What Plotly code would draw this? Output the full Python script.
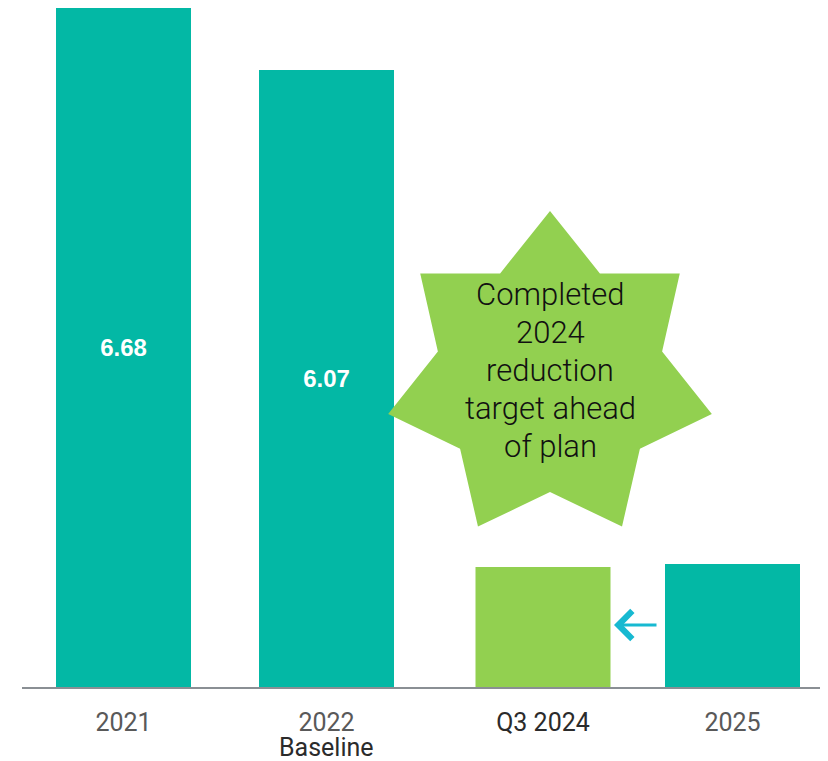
import math
import plotly.graph_objects as go

# ---- data ----
categories = ["2021", "2022", "Q3 2024", "2025"]
values = [6.68, 6.07, 1.18, 1.21]
value_labels = ["6.68", "6.07", "", ""]
tick_labels = [
    '<span style="color:#595959">2021</span>',
    '<span style="color:#595959">2022</span>',
    '<span style="color:#2b2b2b">Q3 2024</span>',
    '<span style="color:#595959">2025</span>',
]
baseline_label = "Baseline"
callout_lines = ["Completed", "2024", "reduction", "target ahead", "of plan"]

# ---- layout constants (screen pixels; page has an 8px body offset) ----
OFF = 8
W, H = 828 - OFF, 761 - OFF
AXIS_X0, AXIS_Y = 22, 687          # screen px of plot left / baseline
ML = AXIS_X0 - OFF
MT = 0
PLOT_H = AXIS_Y - OFF - MT
MB = H - MT - PLOT_H
MR = 0
YMAX = 6.68
K = PLOT_H / YMAX                   # px per unit
x_pos = [101.5, 304.5, 521, 710.5]  # bar centres in axis units (px from plot left)
bar_w = 135
TEAL = "#03b8a5"
GREEN = "#92d050"
colors = [TEAL, TEAL, GREEN, TEAL]

def py_to_y(py):
    return (AXIS_Y - py) / K

def py_to_paper(py):
    return (AXIS_Y - py) / PLOT_H

def px_to_x(px):
    return px - AXIS_X0

fig = go.Figure()
fig.add_trace(go.Bar(
    x=x_pos, y=values, width=bar_w,
    marker=dict(color=colors, line=dict(width=0)),
    text=value_labels, textposition="inside", insidetextanchor="middle",
    textangle=0,
    textfont=dict(family="Liberation Sans, Arial", size=24, color="white", weight="bold"),
    hoverinfo="skip",
))

# 7-point star callout
cx, cy, R_out, R_in = 550, 377, 166, 115
pts = []
for k in range(14):
    ang = math.radians(-90 + k * 180 / 7)
    r = R_out if k % 2 == 0 else R_in
    pts.append((cx + r * math.cos(ang), cy + r * math.sin(ang)))
path = "M " + " L ".join(f"{px_to_x(px):.2f},{py_to_y(py):.4f}" for px, py in pts) + " Z"
fig.add_shape(type="path", path=path, xref="x", yref="y",
              fillcolor=GREEN, line=dict(width=0), layer="above")

line_y = [294, 332, 370, 408, 446]
for txt, ly in zip(callout_lines, line_y):
    fig.add_annotation(
        x=px_to_x(550), y=py_to_y(ly), xref="x", yref="y",
        text=txt, showarrow=False, yanchor="middle",
        font=dict(family="Roboto", size=31, color="#111111", weight=300),
    )

# "Baseline" second line under the 2022 tick
fig.add_annotation(
    x=x_pos[1], y=py_to_paper(748), xref="x", yref="paper", text=baseline_label,
    showarrow=False, yanchor="middle", borderpad=0,
    font=dict(family="Roboto", size=25, color="#2b2b2b"),
)

# arrow from 2025 bar to Q3 2024 bar
fig.add_annotation(
    x=px_to_x(614), y=py_to_y(625), ax=px_to_x(658), ay=py_to_y(625),
    xref="x", yref="y", axref="x", ayref="y", text="",
    showarrow=True, arrowhead=4, arrowsize=1.8, arrowwidth=3, arrowcolor="#17b9d1",
)

fig.update_layout(
    width=W, height=H,
    margin=dict(l=ML, r=MR, t=MT, b=MB),
    plot_bgcolor="white", paper_bgcolor="white",
    showlegend=False,
    font=dict(family="Roboto"),
    xaxis=dict(range=[0, W - ML - MR], tickmode="array", tickvals=x_pos,
               ticktext=tick_labels, showgrid=False, zeroline=False,
               showline=True, linecolor="#8a8f94", linewidth=1.5,
               ticks="", tickfont=dict(family="Roboto", size=25, color="#595959"),
               ticklabelstandoff=12, fixedrange=True),
    yaxis=dict(range=[0, YMAX], visible=False, fixedrange=True),
)

fig.write_html("out.html")
